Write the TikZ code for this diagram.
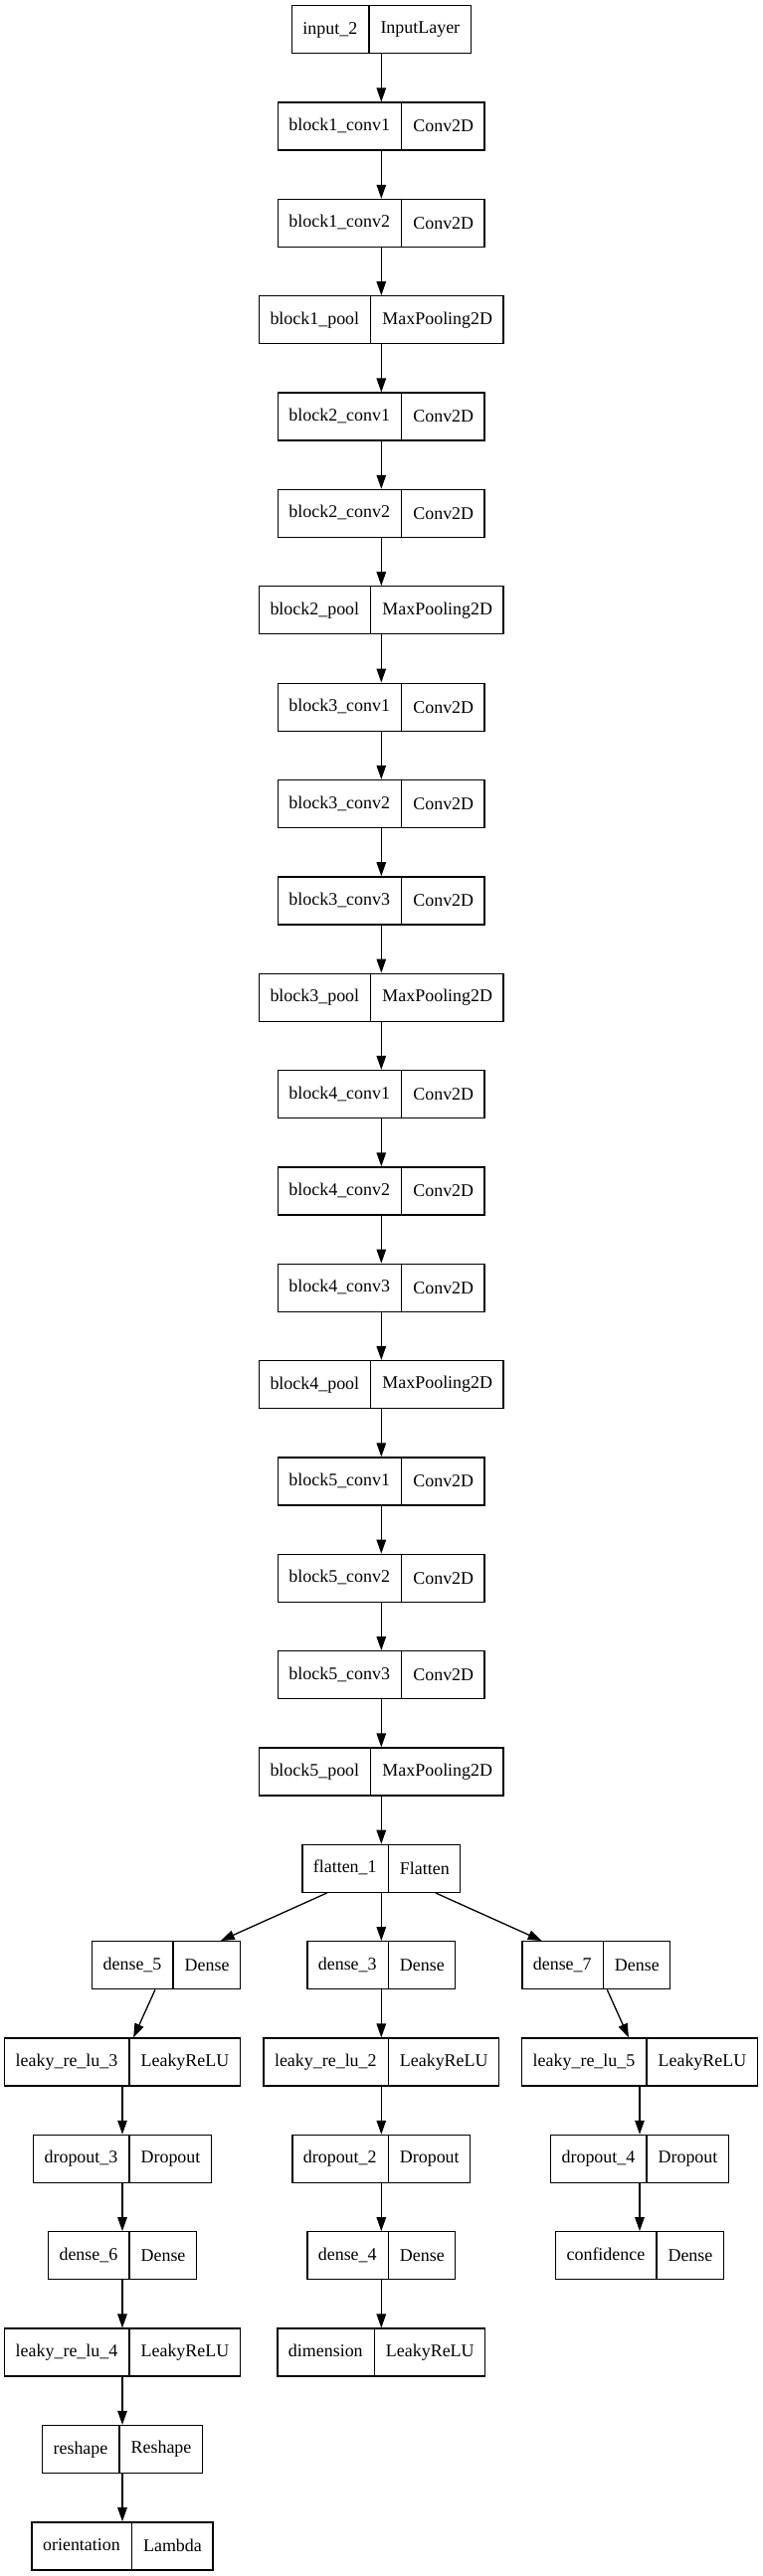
\documentclass[tikz,border=0pt]{standalone}
\usepackage{fontspec}
\setmainfont{Liberation Serif}
\usetikzlibrary{shapes.multipart,arrows.meta}

\begin{document}
\begin{tikzpicture}[x=1bp,y=-97.35bp,
  layer/.style={rectangle split,rectangle split horizontal,rectangle split parts=2,
    draw,line width=1.3bp,inner xsep=11bp,inner ysep=15.5bp,
    text height=13bp,text depth=4bp,font=\fontsize{18}{20}\selectfont},
  edge/.style={-{Triangle[length=14bp,width=9.5bp]},line width=1.3bp}]
\useasboundingbox (0,-0.3051) rectangle (767,26.31);

% backbone
\node[layer] (in2) at (383.3,0) {input\_2 \nodepart{two} InputLayer};
\node[layer] (b1c1) at (383.3,1) {block1\_conv1 \nodepart{two} Conv2D};
\node[layer] (b1c2) at (383.3,2) {block1\_conv2 \nodepart{two} Conv2D};
\node[layer] (b1p) at (383.3,3) {block1\_pool \nodepart{two} MaxPooling2D};
\node[layer] (b2c1) at (383.3,4) {block2\_conv1 \nodepart{two} Conv2D};
\node[layer] (b2c2) at (383.3,5) {block2\_conv2 \nodepart{two} Conv2D};
\node[layer] (b2p) at (383.3,6) {block2\_pool \nodepart{two} MaxPooling2D};
\node[layer] (b3c1) at (383.3,7) {block3\_conv1 \nodepart{two} Conv2D};
\node[layer] (b3c2) at (383.3,8) {block3\_conv2 \nodepart{two} Conv2D};
\node[layer] (b3c3) at (383.3,9) {block3\_conv3 \nodepart{two} Conv2D};
\node[layer] (b3p) at (383.3,10) {block3\_pool \nodepart{two} MaxPooling2D};
\node[layer] (b4c1) at (383.3,11) {block4\_conv1 \nodepart{two} Conv2D};
\node[layer] (b4c2) at (383.3,12) {block4\_conv2 \nodepart{two} Conv2D};
\node[layer] (b4c3) at (383.3,13) {block4\_conv3 \nodepart{two} Conv2D};
\node[layer] (b4p) at (383.3,14) {block4\_pool \nodepart{two} MaxPooling2D};
\node[layer] (b5c1) at (383.3,15) {block5\_conv1 \nodepart{two} Conv2D};
\node[layer] (b5c2) at (383.3,16) {block5\_conv2 \nodepart{two} Conv2D};
\node[layer] (b5c3) at (383.3,17) {block5\_conv3 \nodepart{two} Conv2D};
\node[layer] (b5p) at (383.3,18) {block5\_pool \nodepart{two} MaxPooling2D};
\node[layer] (flat) at (383.3,19) {flatten\_1 \nodepart{two} Flatten};

% heads
\node[layer] (d5) at (167.1,20) {dense\_5 \nodepart{two} Dense};
\node[layer] (d3) at (383.3,20) {dense\_3 \nodepart{two} Dense};
\node[layer] (d7) at (599.3,20) {dense\_7 \nodepart{two} Dense};
\node[layer] (lr3) at (123,21) {leaky\_re\_lu\_3 \nodepart{two} LeakyReLU};
\node[layer] (lr2) at (383.3,21) {leaky\_re\_lu\_2 \nodepart{two} LeakyReLU};
\node[layer] (lr5) at (643,21) {leaky\_re\_lu\_5 \nodepart{two} LeakyReLU};
\node[layer] (do3) at (123,22) {dropout\_3 \nodepart{two} Dropout};
\node[layer] (do2) at (383.3,22) {dropout\_2 \nodepart{two} Dropout};
\node[layer] (do4) at (643,22) {dropout\_4 \nodepart{two} Dropout};
\node[layer] (d6) at (123,23) {dense\_6 \nodepart{two} Dense};
\node[layer] (d4) at (383.3,23) {dense\_4 \nodepart{two} Dense};
\node[layer] (conf) at (643,23) {confidence \nodepart{two} Dense};
\node[layer] (lr4) at (123,24) {leaky\_re\_lu\_4 \nodepart{two} LeakyReLU};
\node[layer] (dim) at (383.3,24) {dimension \nodepart{two} LeakyReLU};
\node[layer] (resh) at (123,25) {reshape \nodepart{two} Reshape};
\node[layer] (orient) at (123,26) {orientation \nodepart{two} Lambda};

% connections
\draw[edge] (in2) -- (b1c1);
\draw[edge] (b1c1) -- (b1c2);
\draw[edge] (b1c2) -- (b1p);
\draw[edge] (b1p) -- (b2c1);
\draw[edge] (b2c1) -- (b2c2);
\draw[edge] (b2c2) -- (b2p);
\draw[edge] (b2p) -- (b3c1);
\draw[edge] (b3c1) -- (b3c2);
\draw[edge] (b3c2) -- (b3c3);
\draw[edge] (b3c3) -- (b3p);
\draw[edge] (b3p) -- (b4c1);
\draw[edge] (b4c1) -- (b4c2);
\draw[edge] (b4c2) -- (b4c3);
\draw[edge] (b4c3) -- (b4p);
\draw[edge] (b4p) -- (b5c1);
\draw[edge] (b5c1) -- (b5c2);
\draw[edge] (b5c2) -- (b5c3);
\draw[edge] (b5c3) -- (b5p);
\draw[edge] (b5p) -- (flat);
\draw[edge] (flat) -- (d5);
\draw[edge] (flat) -- (d3);
\draw[edge] (flat) -- (d7);
\draw[edge] (d5) -- (lr3);
\draw[edge] (lr3) -- (do3);
\draw[edge] (do3) -- (d6);
\draw[edge] (d6) -- (lr4);
\draw[edge] (lr4) -- (resh);
\draw[edge] (resh) -- (orient);
\draw[edge] (d3) -- (lr2);
\draw[edge] (lr2) -- (do2);
\draw[edge] (do2) -- (d4);
\draw[edge] (d4) -- (dim);
\draw[edge] (d7) -- (lr5);
\draw[edge] (lr5) -- (do4);
\draw[edge] (do4) -- (conf);
\end{tikzpicture}
\end{document}
